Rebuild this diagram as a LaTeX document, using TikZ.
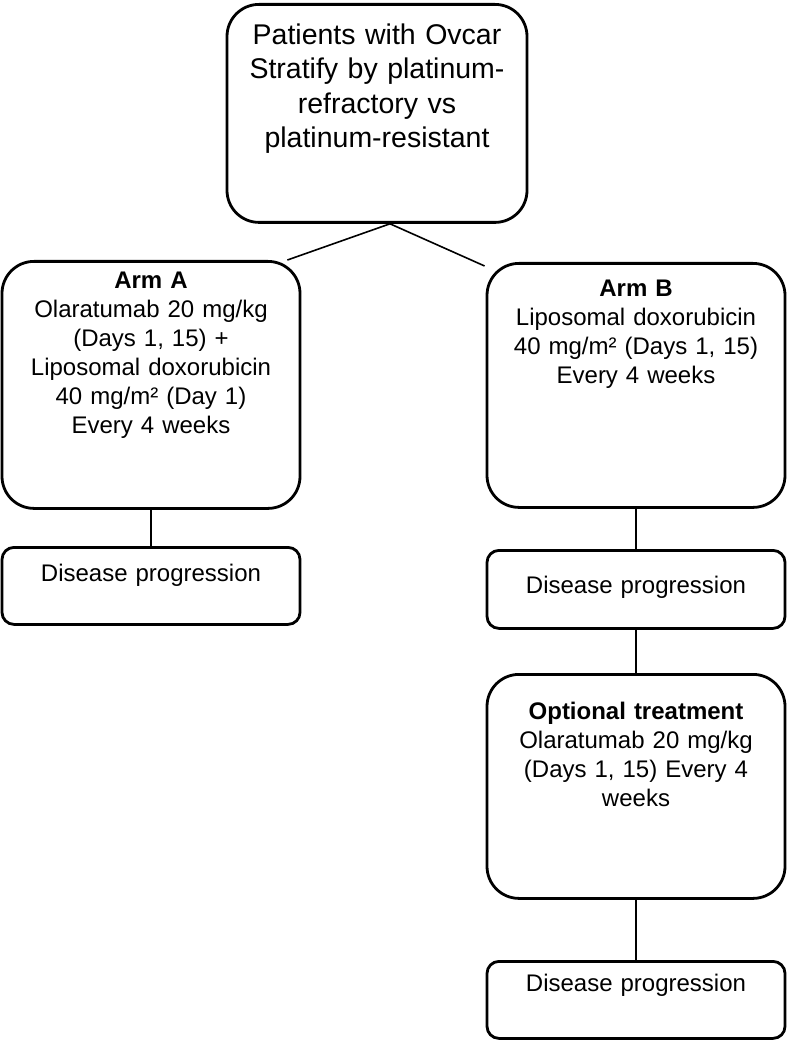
\documentclass[tikz,border=0pt]{standalone}
\usepackage{fontspec}
\setmainfont{Liberation Sans}
\begin{document}
\begin{tikzpicture}[x=1pt,y=-1pt,
box/.style ={rectangle, draw=black, line width=2.8pt, rounded corners=32pt,
  inner sep=0pt, anchor=north, text width=298pt, align=center,
  font=\fontsize{24}{29}\selectfont
},
prog/.style ={box, rounded corners=12pt},
link/.style ={draw=black, line width=1.6pt}]
\useasboundingbox (0,0) rectangle (787,1040);
\node (pat) at (377,3) [box, text width=300pt, text height=40pt, text depth=178pt,
  font=\fontsize{28.5}{34.5}\selectfont]
  {Patients with Ovcar\\Stratify by platinum-\\refractory vs\\platinum-resistant};
\node (armA) at (151,260) [box, text height=27pt, text depth=220pt]
  {\textbf{Arm A}\\Olaratumab 20 mg/kg\\(Days 1, 15) +\\Liposomal doxorubicin\\40 mg/m² (Day 1)\\Every 4 weeks};
\node (armB) at (636,262) [box, text height=33pt, text depth=211pt]
  {\textbf{Arm B}\\Liposomal doxorubicin\\40 mg/m² (Days 1, 15)\\Every 4 weeks};
\node (progA) at (151,546) [prog, text height=34pt, text depth=43pt] {Disease progression};
\node (progB) at (636,549) [prog, text height=43pt, text depth=35pt] {Disease progression};
\node (opt) at (636,673) [box, text height=45pt, text depth=179pt]
  {\textbf{Optional treatment}\\Olaratumab 20 mg/kg\\(Days 1, 15) Every 4\\weeks};
\node (progC) at (636,960) [prog, text height=30pt, text depth=47pt] {Disease progression};
% connectors
\draw[link] ([xshift=13pt]pat.south) -- ([xshift=-14pt]armA.north east);
\draw[link] ([xshift=13pt]pat.south) -- ([xshift=-1pt,yshift=-4pt]armB.north west);
\draw[link] (armA.south) -- (progA.north);
\draw[link] (armB.south) -- (progB.north);
\draw[link] (progB.south) -- (opt.north);
\draw[link] (opt.south) -- (progC.north);
\end{tikzpicture}
\end{document}
